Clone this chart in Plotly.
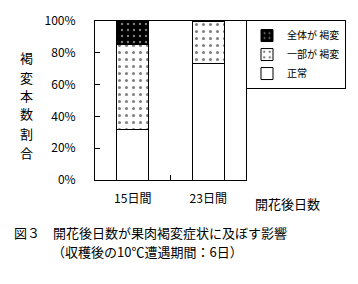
import plotly.graph_objects as go

categories = ["15日間", "23日間"]
normal = [0.32, 0.73]
partial = [0.53, 0.27]
full = [0.15, 0.0]
names = ["正常", "一部が 褐変", "全体が 褐変"]
ytitle_chars = list("褐変本数割合")

FONT = "Noto Sans CJK JP"
W, H = 358, 284
L, R, T, B = 95, 105, 21, 104

fig = go.Figure()
fig.add_bar(x=categories, y=normal, name=names[0],
            marker=dict(color="white", line=dict(color="black", width=1)))
fig.add_bar(x=categories, y=partial, name=names[1],
            marker=dict(color="white", line=dict(color="black", width=1),
                        pattern=dict(shape=".", fgcolor="black", bgcolor="white",
                                     size=7, solidity=0.15)))
fig.add_bar(x=categories, y=full, name=names[2],
            marker=dict(color="black", line=dict(color="black", width=1),
                        pattern=dict(shape=".", fgcolor="white", bgcolor="black",
                                     size=6, solidity=0.12)))

fig.update_layout(
    width=W, height=H,
    margin=dict(l=L, r=R, t=T, b=B),
    barmode="stack", bargap=0.58,
    plot_bgcolor="white", paper_bgcolor="white",
    font=dict(family=FONT, size=12, color="black"),
    legend=dict(x=1.0, y=1.006, xanchor="left", yanchor="top",
                traceorder="reversed", bordercolor="black", borderwidth=1,
                bgcolor="white", font=dict(size=10), tracegroupgap=0,
                itemwidth=30),
    showlegend=True,
)
fig.update_xaxes(showline=True, linecolor="black", linewidth=1, mirror=True,
                 ticks="inside", tickson="boundaries", ticklen=5,
                 tickcolor="black", tickfont=dict(size=12), showgrid=False,
                 ticklabelstandoff=8)
fig.update_yaxes(range=[0, 1], dtick=0.2, tickformat=".0%", showline=True,
                 linecolor="black", linewidth=1, mirror=True, ticks="inside",
                 ticklen=5, tickcolor="black", showgrid=False, zeroline=False,
                 tickfont=dict(size=12), ticklabelstandoff=16)

ph = H - T - B
pw = W - L - R
ys = [58, 77, 95, 113, 133, 152]
for ch, yp in zip(ytitle_chars, ys):
    fig.add_annotation(text=ch, xref="paper", yref="paper",
                       x=(23 - L) / pw, y=(H - B - yp) / ph,
                       showarrow=False, font=dict(size=13),
                       xanchor="center", yanchor="middle")

fig.add_annotation(text="開花後日数", xref="paper", yref="paper",
                   x=(296 - L) / pw, y=(H - B - 203) / ph,
                   showarrow=False, font=dict(size=13),
                   xanchor="center", yanchor="middle")
fig.add_annotation(text="図３　開花後日数が果肉褐変症状に及ぼす影響",
                   xref="paper", yref="paper",
                   x=(8 - L) / pw, y=(H - B - 232) / ph,
                   showarrow=False, font=dict(size=13),
                   xanchor="left", yanchor="middle")
fig.add_annotation(text="（収穫後の10℃遭遇期間：6日）",
                   xref="paper", yref="paper",
                   x=(48 - L) / pw, y=(H - B - 252) / ph,
                   showarrow=False, font=dict(size=13),
                   xanchor="left", yanchor="middle")

fig.write_html("out.html")
